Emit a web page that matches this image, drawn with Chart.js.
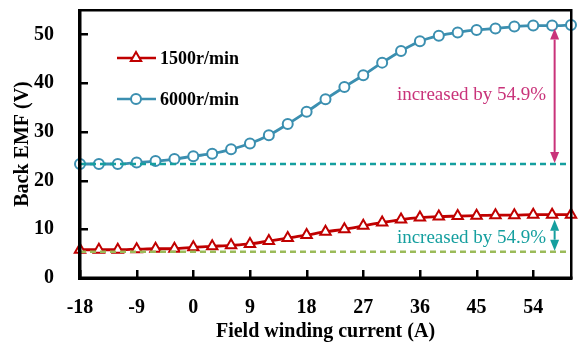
<!DOCTYPE html>
<html>
<head>
<meta charset="utf-8">
<script src="https://cdn.jsdelivr.net/npm/chart.js@4.4.1/dist/chart.umd.min.js"></script>
<style>
  html, body { margin: 0; padding: 0; background: #ffffff; }
  #wrap { width: 579px; height: 347px; }
</style>
</head>
<body>
<div id="wrap"><canvas id="emfChart"></canvas></div>
<script>
// field winding current (A)
const currents = [-18, -15, -12, -9, -6, -3, 0, 3, 6, 9, 12, 15, 18, 21, 24, 27, 30, 33, 36, 39, 42, 45, 48, 51, 54, 57, 60];
// back EMF (V)
const emf1500 = [5.8, 5.8, 5.8, 5.9, 6.0, 6.0, 6.3, 6.5, 6.7, 7.0, 7.6, 8.2, 8.8, 9.5, 10.0, 10.7, 11.4, 12.0, 12.4, 12.6, 12.7, 12.8, 12.9, 12.9, 13.0, 13.0, 13.0];
const emf6000 = [23.4, 23.4, 23.4, 23.7, 24.0, 24.4, 25.0, 25.5, 26.4, 27.6, 29.3, 31.6, 34.1, 36.7, 39.2, 41.6, 44.2, 46.6, 48.6, 49.7, 50.4, 50.9, 51.2, 51.6, 51.8, 51.8, 51.9];
const seriesNames = ['1500r/min', '6000r/min'];
const xTicks = [-18, -9, 0, 9, 18, 27, 36, 45, 54];
const yTicks = [0, 10, 20, 30, 40, 50];
// reference levels and arrows
const base6000 = 23.4;
const base1500 = 5.4;
const arrowX = 57.4;
const top6000 = 51.8;
const top1500 = 13.0;
const noteText = 'increased by 54.9%';

const RED = '#c00000';
const BLUE = '#3b8fb0';
const TEAL = '#159f9f';
const GREEN = '#9bbb59';
const MAGENTA = '#c9337a';
const FONT = "'Liberation Serif', 'Times New Roman', serif";

function toXY(ys) {
    return currents.map((x, i) => ({ x: x, y: ys[i] }));
}

const frameAndNotes = {
    id: 'frame_and_notes',

    drawArrow: function(ctx, x, y1, y2, color) {
        // double headed vertical arrow from y1 (top) to y2 (bottom)
        const head = 11, half = 4.5;
        ctx.save();
        ctx.setLineDash([]);
        ctx.strokeStyle = color;
        ctx.fillStyle = color;
        ctx.lineWidth = 2;
        ctx.beginPath();
        ctx.moveTo(x, y1 + head);
        ctx.lineTo(x, y2 - head);
        ctx.stroke();
        ctx.beginPath();
        ctx.moveTo(x, y1);
        ctx.lineTo(x - half, y1 + head);
        ctx.lineTo(x + half, y1 + head);
        ctx.closePath();
        ctx.fill();
        ctx.beginPath();
        ctx.moveTo(x, y2);
        ctx.lineTo(x - half, y2 - head);
        ctx.lineTo(x + half, y2 - head);
        ctx.closePath();
        ctx.fill();
        ctx.restore();
    },

    afterDraw: function(chart) {
        const ctx = chart.ctx;
        const sx = chart.scales.x, sy = chart.scales.y;
        const a = chart.chartArea;
        const L = Math.round(a.left), R = Math.round(a.right), T = Math.round(a.top), B = Math.round(a.bottom);

        // arrows
        this.drawArrow(ctx, sx.getPixelForValue(arrowX), sy.getPixelForValue(top6000) + 3, sy.getPixelForValue(base6000) - 1, MAGENTA);
        this.drawArrow(ctx, sx.getPixelForValue(arrowX), sy.getPixelForValue(top1500) + 5, sy.getPixelForValue(base1500) - 1, TEAL);

        // notes
        ctx.save();
        ctx.font = '19px ' + FONT;
        ctx.textAlign = 'center';
        ctx.textBaseline = 'middle';
        ctx.fillStyle = MAGENTA;
        ctx.fillText(noteText, sx.getPixelForValue(44.2), sy.getPixelForValue(37.5));
        ctx.fillStyle = TEAL;
        ctx.fillText(noteText, sx.getPixelForValue(44.2), sy.getPixelForValue(8.2));
        ctx.restore();

        // frame: thick left/bottom, thinner top/right
        ctx.save();
        ctx.fillStyle = '#000000';
        ctx.fillRect(L - 1, T - 1, R - L + 2, 2.5);
        ctx.fillRect(R - 1, T - 1, 2.5, B - T + 2);
        ctx.fillRect(L - 2, T - 1, 3.5, B - T + 3);
        ctx.fillRect(L - 2, B - 1.5, R - L + 3.5, 3.5);

        // inward ticks
        xTicks.forEach(v => {
            const px = Math.round(sx.getPixelForValue(v));
            ctx.fillRect(px - 1, B - 8, 2.5, 8);
        });
        yTicks.forEach(v => {
            const py = Math.round(sy.getPixelForValue(v));
            ctx.fillRect(L, py - 1, 8, 2.5);
        });
        ctx.restore();

        // legend
        const items = [
            { name: seriesNames[0], color: RED, style: 'triangle', r: 6, y: 58 },
            { name: seriesNames[1], color: BLUE, style: 'circle', r: 5, y: 99 }
        ];
        ctx.save();
        ctx.setLineDash([]);
        items.forEach(it => {
            ctx.strokeStyle = it.color;
            ctx.lineWidth = 2.5;
            ctx.beginPath();
            ctx.moveTo(117, it.y);
            ctx.lineTo(156, it.y);
            ctx.stroke();
            ctx.fillStyle = '#ffffff';
            ctx.lineWidth = 2;
            Chart.helpers.drawPoint(ctx, { pointStyle: it.style, radius: it.r, borderWidth: 2 }, 136, it.y);
            ctx.fillStyle = '#000000';
            ctx.font = 'bold 18px ' + FONT;
            ctx.textAlign = 'left';
            ctx.textBaseline = 'middle';
            ctx.fillText(it.name, 160, it.y + 1);
        });
        ctx.restore();
    }
};

function initChart() {
    Chart.register(frameAndNotes);
    const ctx = document.getElementById('emfChart');
    return new Chart(ctx, {
        type: 'scatter',
        data: {
            datasets: [
                {
                    label: 'base 6000',
                    data: [{ x: -18, y: base6000 }, { x: 60, y: base6000 }],
                    showLine: true,
                    borderColor: TEAL,
                    borderWidth: 2.5,
                    borderDash: [6, 4],
                    pointRadius: 0
                },
                {
                    label: 'base 1500',
                    data: [{ x: -18, y: base1500 }, { x: 60, y: base1500 }],
                    showLine: true,
                    borderColor: GREEN,
                    borderWidth: 2.5,
                    borderDash: [6, 4],
                    pointRadius: 0
                },
                {
                    label: seriesNames[0],
                    data: toXY(emf1500),
                    showLine: true,
                    cubicInterpolationMode: 'monotone',
                    borderColor: RED,
                    borderWidth: 2.8,
                    backgroundColor: '#ffffff',
                    pointStyle: 'triangle',
                    pointRadius: 6,
                    pointBorderWidth: 2,
                    clip: 8
                },
                {
                    label: seriesNames[1],
                    data: toXY(emf6000),
                    showLine: true,
                    cubicInterpolationMode: 'monotone',
                    borderColor: BLUE,
                    borderWidth: 2.8,
                    backgroundColor: '#ffffff',
                    pointStyle: 'circle',
                    pointRadius: 5,
                    pointBorderWidth: 2,
                    clip: 8
                }
            ]
        },
        options: {
            responsive: true,
            maintainAspectRatio: false,
            animation: false,
            layout: { padding: { left: 0, top: 10, right: 6, bottom: 0 } },
            scales: {
                x: {
                    type: 'linear',
                    min: -18,
                    max: 60,
                    grid: { display: false },
                    border: { display: false },
                    afterFit: function(scale) {
                        scale.height = 69;
                        scale.paddingLeft = 0;
                        scale.paddingRight = 0;
                    },
                    ticks: {
                        stepSize: 9,
                        includeBounds: false,
                        padding: 10,
                        color: '#000000',
                        font: { family: FONT, size: 20, weight: 'bold' }
                    },
                    title: {
                        display: true,
                        text: 'Field winding current (A)',
                        color: '#000000',
                        padding: { top: 0, bottom: 3 },
                        font: { family: FONT, size: 20, weight: 'bold' }
                    }
                },
                y: {
                    min: 0,
                    max: 55,
                    grid: { display: false },
                    border: { display: false },
                    afterFit: function(scale) {
                        scale.width = 80;
                        scale.paddingTop = 0;
                        scale.paddingBottom = 0;
                    },
                    ticks: {
                        stepSize: 10,
                        includeBounds: false,
                        padding: 18,
                        color: '#000000',
                        font: { family: FONT, size: 20, weight: 'bold' }
                    },
                    title: {
                        display: true,
                        text: 'Back EMF (V)',
                        color: '#000000',
                        padding: { top: 11, bottom: 0 },
                        font: { family: FONT, size: 20, weight: 'bold' }
                    }
                }
            },
            plugins: {
                legend: { display: false },
                tooltip: { enabled: false }
            }
        }
    });
}

var g_chart = initChart();
</script>
</body>
</html>
